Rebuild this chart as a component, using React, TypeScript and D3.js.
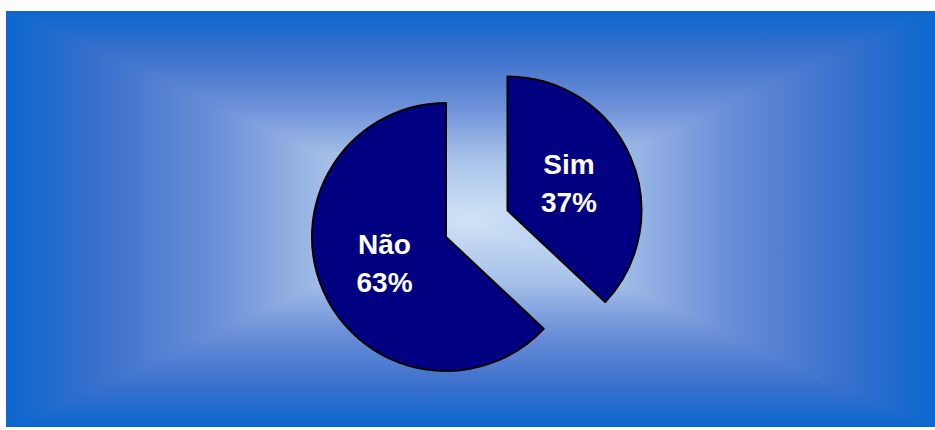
import React from "react";
import * as d3 from "d3";

const categories = ["Sim", "Não"];
const values = [37, 63];
const labels = ["37%", "63%"];

const W = 935;
const H = 430;
const panel = { x0: 6, y0: 11, x1: 935, y1: 427 };
const cx = 446;
const cy = 237;
const R = 134;
const explode = [67, 0];

const stops = [
  { o: 0, c: "#0b67cf" },
  { o: 0.2, c: "#3a70cc" },
  { o: 0.45, c: "#6b8fd8" },
  { o: 0.7, c: "#a6c0e8" },
  { o: 1, c: "#d0e3f6" },
];

export default function App() {
  const pie = d3.pie<number>().sort(null).value((d) => d)(values);
  const arc = d3.arc<d3.PieArcDatum<number>>().innerRadius(0).outerRadius(R);
  const mx = (panel.x0 + panel.x1) / 2;
  const my = (panel.y0 + panel.y1) / 2;
  const { x0, y0, x1, y1 } = panel;
  const tris = [
    { id: "gT", pts: `${x0},${y0} ${x1},${y0} ${mx},${my}`, g: { x1: 0, y1: y0, x2: 0, y2: my } },
    { id: "gB", pts: `${x0},${y1} ${x1},${y1} ${mx},${my}`, g: { x1: 0, y1: y1, x2: 0, y2: my } },
    { id: "gL", pts: `${x0},${y0} ${x0},${y1} ${mx},${my}`, g: { x1: x0, y1: 0, x2: mx, y2: 0 } },
    { id: "gR", pts: `${x1},${y0} ${x1},${y1} ${mx},${my}`, g: { x1: x1, y1: 0, x2: mx, y2: 0 } },
  ];
  return (
    <svg width={W} height={H} style={{ position: "absolute", left: 0, top: 0 }}>
      <defs>
        {tris.map((t) => (
          <linearGradient key={t.id} id={t.id} gradientUnits="userSpaceOnUse" x1={t.g.x1} y1={t.g.y1} x2={t.g.x2} y2={t.g.y2}>
            {stops.map((s, i) => (
              <stop key={i} offset={s.o} stopColor={s.c} />
            ))}
          </linearGradient>
        ))}
        <radialGradient id="base" gradientUnits="userSpaceOnUse" cx={mx} cy={my} r={470} gradientTransform={`translate(${mx},${my}) scale(1,${(y1 - y0) / (x1 - x0)}) translate(${-mx},${-my})`}>
          {stops.map((s, i) => (
            <stop key={i} offset={1 - s.o} stopColor={s.c} />
          )).reverse()}
        </radialGradient>
      </defs>
      <rect x={0} y={0} width={W} height={H} fill="#ffffff" />
      <rect x={x0} y={y0} width={x1 - x0} height={y1 - y0} fill="url(#base)" />
      {tris.map((t) => (
        <polygon key={t.id} points={t.pts} fill={`url(#${t.id})`} />
      ))}
      {pie.map((d, i) => {
        const mid = (d.startAngle + d.endAngle) / 2;
        const ox = Math.sin(mid) * explode[i];
        const oy = -Math.cos(mid) * explode[i];
        const [lx, ly] = d3.arc<d3.PieArcDatum<number>>().innerRadius(R * 0.5).outerRadius(R * 0.5).centroid(d);
        return (
          <g key={categories[i]} transform={`translate(${cx + ox},${cy + oy})`}>
            <path d={arc(d) || ""} fill="#000080" stroke="#000000" strokeWidth={2} strokeLinejoin="round" />
            <text
              x={lx}
              y={ly}
              textAnchor="middle"
              fill="#ffffff"
              fontFamily="'Liberation Sans', Arial, sans-serif"
              fontWeight="bold"
              fontSize={28}
            >
              <tspan x={lx} dy={-10}>{categories[i]}</tspan>
              <tspan x={lx} dy={38}>{labels[i]}</tspan>
            </text>
          </g>
        );
      })}
    </svg>
  );
}
